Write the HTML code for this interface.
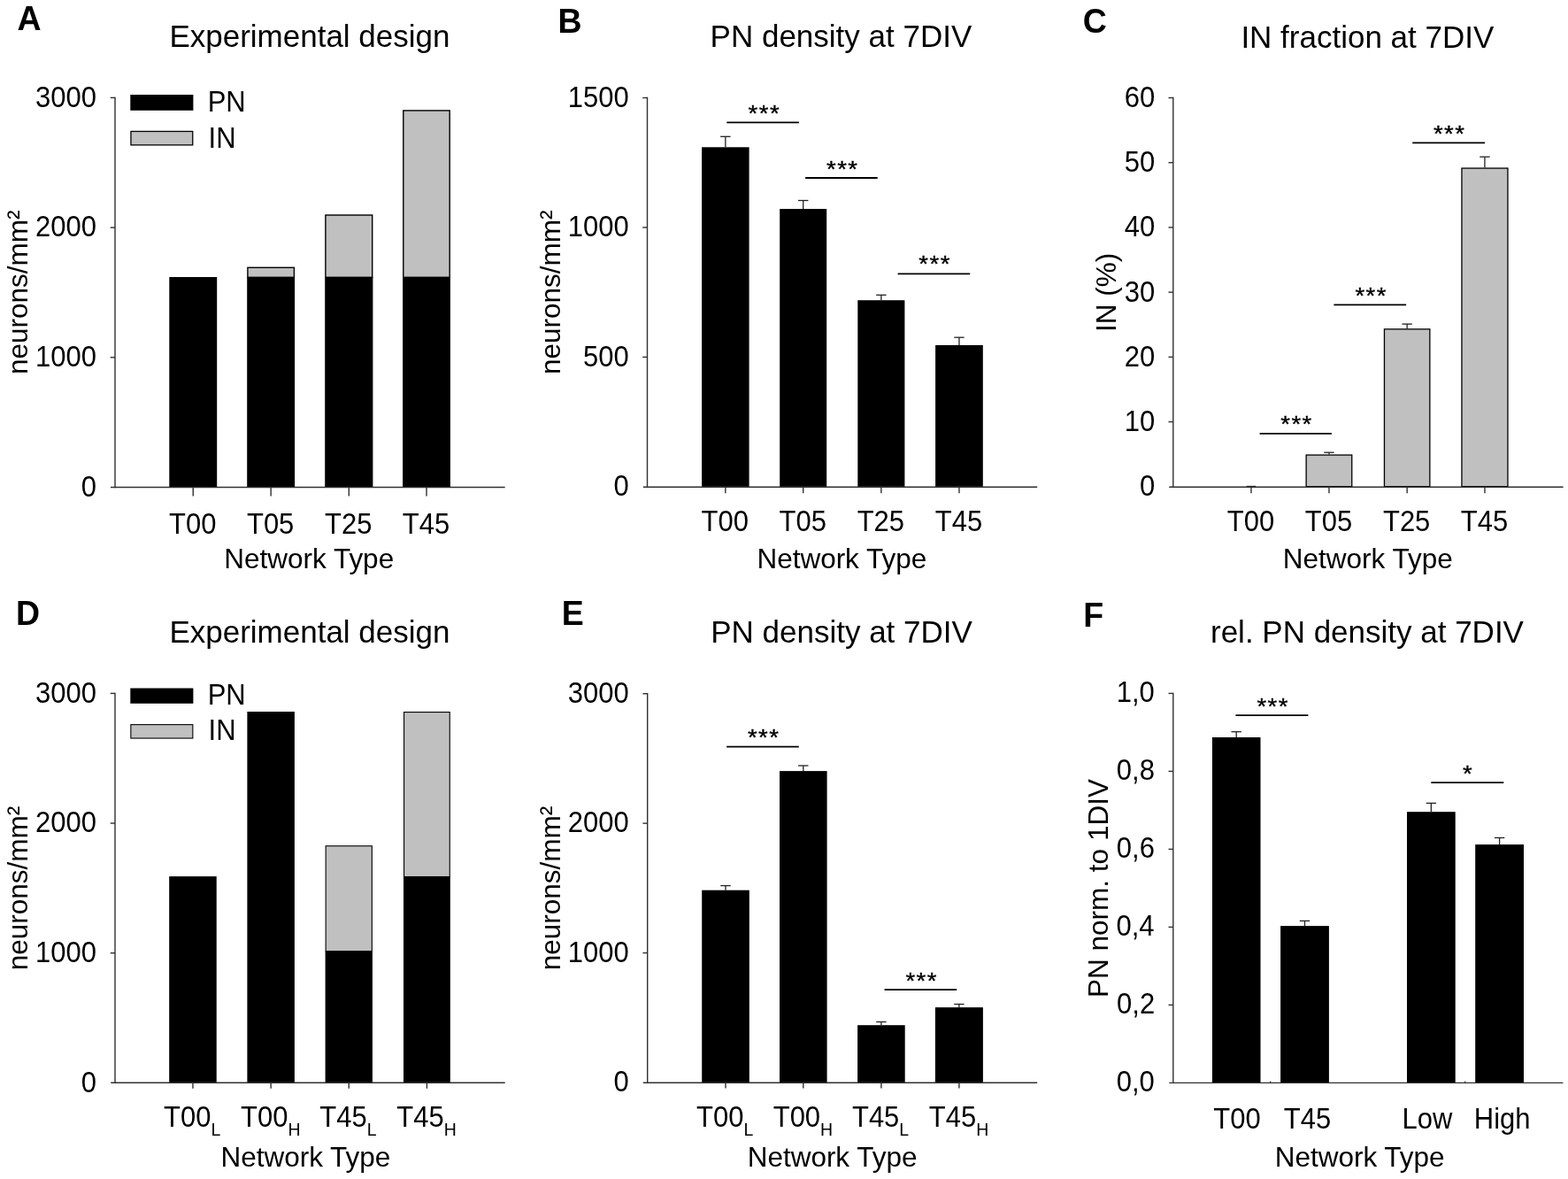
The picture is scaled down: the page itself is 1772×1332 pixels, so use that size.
<!DOCTYPE html>
<html><head><meta charset="utf-8"><title>Figure</title>
<style>
html,body{margin:0;padding:0;background:#fff;overflow:hidden;}
svg{display:block;}
text{font-family:"Liberation Sans", Arial, sans-serif;fill:#000;}
</style></head><body>
<svg width="1772" height="1332" viewBox="0 0 1772 1332">
<rect x="0" y="0" width="1772" height="1332" fill="#fff"/>
<text x="0" y="0" font-size="37.5" font-weight="bold" transform="translate(19.46,33.60) scale(1,1.055)">A</text>
<text x="0" y="0" font-size="35" transform="translate(191.40,53.30) scale(1,1.02)">Experimental design</text>
<rect x="191.30" y="313.00" width="53.90" height="237.50" fill="#000"/>
<rect x="279.90" y="302.30" width="52.50" height="11.00" fill="#c0c0c0" stroke="#000" stroke-width="1.4"/>
<rect x="279.20" y="313.00" width="53.90" height="237.50" fill="#000"/>
<rect x="367.90" y="243.00" width="52.80" height="70.30" fill="#c0c0c0" stroke="#000" stroke-width="1.4"/>
<rect x="367.20" y="313.00" width="54.20" height="237.50" fill="#000"/>
<rect x="455.80" y="124.90" width="52.40" height="188.40" fill="#c0c0c0" stroke="#000" stroke-width="1.4"/>
<rect x="455.10" y="313.00" width="53.80" height="237.50" fill="#000"/>
<line x1="130.00" y1="109.70" x2="130.00" y2="551.20" stroke="#303030" stroke-width="1.4"/>
<line x1="124.70" y1="110.40" x2="130.00" y2="110.40" stroke="#303030" stroke-width="1.4"/>
<text x="0" y="0" font-size="31.0" transform="translate(40.06,120.75) scale(1,1.055)">3000</text>
<line x1="124.70" y1="257.10" x2="130.00" y2="257.10" stroke="#303030" stroke-width="1.4"/>
<text x="0" y="0" font-size="31.0" transform="translate(40.06,267.45) scale(1,1.055)">2000</text>
<line x1="124.70" y1="403.80" x2="130.00" y2="403.80" stroke="#303030" stroke-width="1.4"/>
<text x="0" y="0" font-size="31.0" transform="translate(40.06,414.15) scale(1,1.055)">1000</text>
<text x="0" y="0" font-size="31.0" transform="translate(91.77,560.85) scale(1,1.055)">0</text>
<line x1="125.00" y1="550.50" x2="570.70" y2="550.50" stroke="#303030" stroke-width="1.4"/>
<line x1="218.25" y1="550.50" x2="218.25" y2="560.50" stroke="#303030" stroke-width="1.4"/>
<line x1="306.15" y1="550.50" x2="306.15" y2="560.50" stroke="#303030" stroke-width="1.4"/>
<line x1="394.30" y1="550.50" x2="394.30" y2="560.50" stroke="#303030" stroke-width="1.4"/>
<line x1="482.00" y1="550.50" x2="482.00" y2="560.50" stroke="#303030" stroke-width="1.4"/>
<rect x="147.30" y="107.00" width="71.10" height="17.80" fill="#000"/>
<rect x="147.95" y="148.45" width="69.80" height="15.40" fill="#c0c0c0" stroke="#000" stroke-width="1.3"/>
<text x="0" y="0" font-size="31.0" transform="translate(234.66,126.00) scale(1,1.055)">PN</text>
<text x="0" y="0" font-size="31.0" transform="translate(235.55,166.50) scale(1,1.055)">IN</text>
<text x="0" y="0" font-size="31.0" transform="translate(191.01,603.20) scale(1,1.055)">T00</text>
<text x="0" y="0" font-size="31.0" transform="translate(278.95,603.20) scale(1,1.055)">T05</text>
<text x="0" y="0" font-size="31.0" transform="translate(367.10,603.20) scale(1,1.055)">T25</text>
<text x="0" y="0" font-size="31.0" transform="translate(454.80,603.20) scale(1,1.055)">T45</text>
<text x="0" y="0" font-size="31.5" transform="translate(253.26,641.70) scale(1,1.02)">Network Type</text>
<text x="-93.52" y="0" font-size="31.5" transform="translate(31.00,329.60) rotate(-90)">neurons/mm²</text>
<text x="0" y="0" font-size="37.5" font-weight="bold" transform="translate(630.59,37.40) scale(1,1.055)">B</text>
<text x="0" y="0" font-size="35" transform="translate(802.61,53.30) scale(1,1.02)">PN density at 7DIV</text>
<rect x="793.10" y="166.30" width="53.50" height="383.60" fill="#000"/>
<line x1="819.85" y1="154.30" x2="819.85" y2="166.30" stroke="#222" stroke-width="1.3"/>
<line x1="814.15" y1="154.30" x2="825.55" y2="154.30" stroke="#222" stroke-width="1.3"/>
<rect x="881.20" y="236.00" width="53.00" height="313.90" fill="#000"/>
<line x1="907.70" y1="226.50" x2="907.70" y2="236.00" stroke="#222" stroke-width="1.3"/>
<line x1="902.00" y1="226.50" x2="913.40" y2="226.50" stroke="#222" stroke-width="1.3"/>
<rect x="969.30" y="339.20" width="53.10" height="210.70" fill="#000"/>
<line x1="995.85" y1="333.30" x2="995.85" y2="339.20" stroke="#222" stroke-width="1.3"/>
<line x1="990.15" y1="333.30" x2="1001.55" y2="333.30" stroke="#222" stroke-width="1.3"/>
<rect x="1057.10" y="389.90" width="53.70" height="160.00" fill="#000"/>
<line x1="1083.95" y1="381.20" x2="1083.95" y2="389.90" stroke="#222" stroke-width="1.3"/>
<line x1="1078.25" y1="381.20" x2="1089.65" y2="381.20" stroke="#222" stroke-width="1.3"/>
<line x1="731.50" y1="109.80" x2="731.50" y2="550.60" stroke="#303030" stroke-width="1.4"/>
<line x1="726.20" y1="110.50" x2="731.50" y2="110.50" stroke="#303030" stroke-width="1.4"/>
<text x="0" y="0" font-size="31.0" transform="translate(641.76,120.85) scale(1,1.055)">1500</text>
<line x1="726.20" y1="256.97" x2="731.50" y2="256.97" stroke="#303030" stroke-width="1.4"/>
<text x="0" y="0" font-size="31.0" transform="translate(641.76,267.32) scale(1,1.055)">1000</text>
<line x1="726.20" y1="403.43" x2="731.50" y2="403.43" stroke="#303030" stroke-width="1.4"/>
<text x="0" y="0" font-size="31.0" transform="translate(659.00,413.78) scale(1,1.055)">500</text>
<text x="0" y="0" font-size="31.0" transform="translate(693.47,560.25) scale(1,1.055)">0</text>
<line x1="726.80" y1="550.20" x2="1172.20" y2="550.20" stroke="#303030" stroke-width="1.4"/>
<line x1="819.85" y1="550.20" x2="819.85" y2="557.20" stroke="#303030" stroke-width="1.4"/>
<line x1="907.70" y1="550.20" x2="907.70" y2="557.20" stroke="#303030" stroke-width="1.4"/>
<line x1="995.85" y1="550.20" x2="995.85" y2="557.20" stroke="#303030" stroke-width="1.4"/>
<line x1="1083.95" y1="550.20" x2="1083.95" y2="557.20" stroke="#303030" stroke-width="1.4"/>
<line x1="821.30" y1="138.30" x2="902.90" y2="138.30" stroke="#000" stroke-width="1.8"/>
<text x="-5.93" y="15.63" font-size="30.5" stroke="#000" stroke-width="0.45" transform="translate(850.85,124.00) scale(0.9,0.85)">*</text>
<text x="-5.93" y="15.63" font-size="30.5" stroke="#000" stroke-width="0.45" transform="translate(863.05,124.00) scale(0.9,0.85)">*</text>
<text x="-5.93" y="15.63" font-size="30.5" stroke="#000" stroke-width="0.45" transform="translate(875.25,124.00) scale(0.9,0.85)">*</text>
<line x1="910.10" y1="201.00" x2="991.70" y2="201.00" stroke="#000" stroke-width="1.8"/>
<text x="-5.93" y="15.63" font-size="30.5" stroke="#000" stroke-width="0.45" transform="translate(939.30,186.60) scale(0.9,0.85)">*</text>
<text x="-5.93" y="15.63" font-size="30.5" stroke="#000" stroke-width="0.45" transform="translate(951.50,186.60) scale(0.9,0.85)">*</text>
<text x="-5.93" y="15.63" font-size="30.5" stroke="#000" stroke-width="0.45" transform="translate(963.70,186.60) scale(0.9,0.85)">*</text>
<line x1="1014.60" y1="309.30" x2="1096.20" y2="309.30" stroke="#000" stroke-width="1.8"/>
<text x="-5.93" y="15.63" font-size="30.5" stroke="#000" stroke-width="0.45" transform="translate(1043.70,294.20) scale(0.9,0.85)">*</text>
<text x="-5.93" y="15.63" font-size="30.5" stroke="#000" stroke-width="0.45" transform="translate(1055.90,294.20) scale(0.9,0.85)">*</text>
<text x="-5.93" y="15.63" font-size="30.5" stroke="#000" stroke-width="0.45" transform="translate(1068.10,294.20) scale(0.9,0.85)">*</text>
<text x="0" y="0" font-size="31.0" transform="translate(792.61,600.00) scale(1,1.055)">T00</text>
<text x="0" y="0" font-size="31.0" transform="translate(880.50,600.00) scale(1,1.055)">T05</text>
<text x="0" y="0" font-size="31.0" transform="translate(968.65,600.00) scale(1,1.055)">T25</text>
<text x="0" y="0" font-size="31.0" transform="translate(1056.75,600.00) scale(1,1.055)">T45</text>
<text x="0" y="0" font-size="31.5" transform="translate(855.41,641.70) scale(1,1.02)">Network Type</text>
<text x="-93.52" y="0" font-size="31.5" transform="translate(632.60,329.60) rotate(-90)">neurons/mm²</text>
<text x="0" y="0" font-size="37.5" font-weight="bold" transform="translate(1223.76,37.10) scale(1,1.055)">C</text>
<text x="0" y="0" font-size="35" transform="translate(1402.40,53.60) scale(1,1.02)">IN fraction at 7DIV</text>
<line x1="1408.65" y1="549.50" x2="1419.25" y2="549.50" stroke="#222" stroke-width="1.3"/>
<rect x="1476.15" y="514.05" width="51.60" height="35.60" fill="#c0c0c0" stroke="#000" stroke-width="1.3"/>
<line x1="1501.95" y1="511.20" x2="1501.95" y2="513.40" stroke="#222" stroke-width="1.3"/>
<line x1="1496.25" y1="511.20" x2="1507.65" y2="511.20" stroke="#222" stroke-width="1.3"/>
<rect x="1564.45" y="371.85" width="51.40" height="177.80" fill="#c0c0c0" stroke="#000" stroke-width="1.3"/>
<line x1="1590.15" y1="366.10" x2="1590.15" y2="371.20" stroke="#222" stroke-width="1.3"/>
<line x1="1584.45" y1="366.10" x2="1595.85" y2="366.10" stroke="#222" stroke-width="1.3"/>
<rect x="1651.95" y="190.05" width="52.00" height="359.60" fill="#c0c0c0" stroke="#000" stroke-width="1.3"/>
<line x1="1677.95" y1="177.20" x2="1677.95" y2="189.40" stroke="#222" stroke-width="1.3"/>
<line x1="1672.25" y1="177.20" x2="1683.65" y2="177.20" stroke="#222" stroke-width="1.3"/>
<line x1="1325.80" y1="109.80" x2="1325.80" y2="550.50" stroke="#303030" stroke-width="1.4"/>
<line x1="1320.50" y1="110.50" x2="1325.80" y2="110.50" stroke="#303030" stroke-width="1.4"/>
<text x="0" y="0" font-size="31.0" transform="translate(1270.74,120.85) scale(1,1.055)">60</text>
<line x1="1320.50" y1="183.72" x2="1325.80" y2="183.72" stroke="#303030" stroke-width="1.4"/>
<text x="0" y="0" font-size="31.0" transform="translate(1270.74,194.07) scale(1,1.055)">50</text>
<line x1="1320.50" y1="256.93" x2="1325.80" y2="256.93" stroke="#303030" stroke-width="1.4"/>
<text x="0" y="0" font-size="31.0" transform="translate(1270.74,267.28) scale(1,1.055)">40</text>
<line x1="1320.50" y1="330.15" x2="1325.80" y2="330.15" stroke="#303030" stroke-width="1.4"/>
<text x="0" y="0" font-size="31.0" transform="translate(1270.74,340.50) scale(1,1.055)">30</text>
<line x1="1320.50" y1="403.37" x2="1325.80" y2="403.37" stroke="#303030" stroke-width="1.4"/>
<text x="0" y="0" font-size="31.0" transform="translate(1270.74,413.72) scale(1,1.055)">20</text>
<line x1="1320.50" y1="476.58" x2="1325.80" y2="476.58" stroke="#303030" stroke-width="1.4"/>
<text x="0" y="0" font-size="31.0" transform="translate(1270.74,486.93) scale(1,1.055)">10</text>
<text x="0" y="0" font-size="31.0" transform="translate(1287.97,560.15) scale(1,1.055)">0</text>
<line x1="1321.20" y1="550.30" x2="1766.60" y2="550.30" stroke="#303030" stroke-width="1.4"/>
<line x1="1413.95" y1="550.30" x2="1413.95" y2="557.30" stroke="#303030" stroke-width="1.4"/>
<line x1="1501.95" y1="550.30" x2="1501.95" y2="557.30" stroke="#303030" stroke-width="1.4"/>
<line x1="1590.15" y1="550.30" x2="1590.15" y2="557.30" stroke="#303030" stroke-width="1.4"/>
<line x1="1677.95" y1="550.30" x2="1677.95" y2="557.30" stroke="#303030" stroke-width="1.4"/>
<line x1="1423.60" y1="489.90" x2="1504.90" y2="489.90" stroke="#000" stroke-width="1.8"/>
<text x="-5.93" y="15.63" font-size="30.5" stroke="#000" stroke-width="0.45" transform="translate(1452.55,475.20) scale(0.9,0.85)">*</text>
<text x="-5.93" y="15.63" font-size="30.5" stroke="#000" stroke-width="0.45" transform="translate(1464.75,475.20) scale(0.9,0.85)">*</text>
<text x="-5.93" y="15.63" font-size="30.5" stroke="#000" stroke-width="0.45" transform="translate(1476.95,475.20) scale(0.9,0.85)">*</text>
<line x1="1507.40" y1="344.40" x2="1589.10" y2="344.40" stroke="#000" stroke-width="1.8"/>
<text x="-5.93" y="15.63" font-size="30.5" stroke="#000" stroke-width="0.45" transform="translate(1536.75,329.45) scale(0.9,0.85)">*</text>
<text x="-5.93" y="15.63" font-size="30.5" stroke="#000" stroke-width="0.45" transform="translate(1548.95,329.45) scale(0.9,0.85)">*</text>
<text x="-5.93" y="15.63" font-size="30.5" stroke="#000" stroke-width="0.45" transform="translate(1561.15,329.45) scale(0.9,0.85)">*</text>
<line x1="1596.20" y1="161.40" x2="1678.10" y2="161.40" stroke="#000" stroke-width="1.8"/>
<text x="-5.93" y="15.63" font-size="30.5" stroke="#000" stroke-width="0.45" transform="translate(1625.25,146.75) scale(0.9,0.85)">*</text>
<text x="-5.93" y="15.63" font-size="30.5" stroke="#000" stroke-width="0.45" transform="translate(1637.45,146.75) scale(0.9,0.85)">*</text>
<text x="-5.93" y="15.63" font-size="30.5" stroke="#000" stroke-width="0.45" transform="translate(1649.65,146.75) scale(0.9,0.85)">*</text>
<text x="0" y="0" font-size="31.0" transform="translate(1386.71,599.90) scale(1,1.055)">T00</text>
<text x="0" y="0" font-size="31.0" transform="translate(1474.75,599.90) scale(1,1.055)">T05</text>
<text x="0" y="0" font-size="31.0" transform="translate(1562.95,599.90) scale(1,1.055)">T25</text>
<text x="0" y="0" font-size="31.0" transform="translate(1650.75,599.90) scale(1,1.055)">T45</text>
<text x="0" y="0" font-size="31.5" transform="translate(1449.81,641.90) scale(1,1.02)">Network Type</text>
<text x="-45.09" y="0" font-size="31.5" transform="translate(1261.00,330.00) rotate(-90)">IN (%)</text>
<text x="0" y="0" font-size="37.5" font-weight="bold" transform="translate(17.99,705.60) scale(1,1.055)">D</text>
<text x="0" y="0" font-size="35" transform="translate(191.40,726.40) scale(1,1.02)">Experimental design</text>
<rect x="191.20" y="990.10" width="53.50" height="233.20" fill="#000"/>
<rect x="279.40" y="804.00" width="53.50" height="419.30" fill="#000"/>
<rect x="368.15" y="955.75" width="52.20" height="119.10" fill="#c0c0c0" stroke="#000" stroke-width="1.1"/>
<rect x="367.60" y="1074.40" width="53.30" height="148.90" fill="#000"/>
<rect x="456.55" y="804.55" width="51.70" height="186.00" fill="#c0c0c0" stroke="#000" stroke-width="1.1"/>
<rect x="456.00" y="990.10" width="52.80" height="233.20" fill="#000"/>
<line x1="130.00" y1="782.70" x2="130.00" y2="1224.00" stroke="#303030" stroke-width="1.4"/>
<line x1="124.70" y1="783.40" x2="130.00" y2="783.40" stroke="#303030" stroke-width="1.4"/>
<text x="0" y="0" font-size="31.0" transform="translate(40.06,793.75) scale(1,1.055)">3000</text>
<line x1="124.70" y1="930.03" x2="130.00" y2="930.03" stroke="#303030" stroke-width="1.4"/>
<text x="0" y="0" font-size="31.0" transform="translate(40.06,940.38) scale(1,1.055)">2000</text>
<line x1="124.70" y1="1076.67" x2="130.00" y2="1076.67" stroke="#303030" stroke-width="1.4"/>
<text x="0" y="0" font-size="31.0" transform="translate(40.06,1087.02) scale(1,1.055)">1000</text>
<text x="0" y="0" font-size="31.0" transform="translate(91.77,1233.65) scale(1,1.055)">0</text>
<line x1="125.20" y1="1223.30" x2="570.70" y2="1223.30" stroke="#303030" stroke-width="1.4"/>
<line x1="217.95" y1="1223.30" x2="217.95" y2="1229.80" stroke="#303030" stroke-width="1.4"/>
<line x1="306.15" y1="1223.30" x2="306.15" y2="1229.80" stroke="#303030" stroke-width="1.4"/>
<line x1="394.25" y1="1223.30" x2="394.25" y2="1229.80" stroke="#303030" stroke-width="1.4"/>
<line x1="482.40" y1="1223.30" x2="482.40" y2="1229.80" stroke="#303030" stroke-width="1.4"/>
<rect x="147.30" y="777.50" width="71.10" height="17.30" fill="#000"/>
<rect x="147.85" y="818.65" width="70.00" height="15.40" fill="#c0c0c0" stroke="#000" stroke-width="1.1"/>
<text x="0" y="0" font-size="31.0" transform="translate(234.66,796.00) scale(1,1.055)">PN</text>
<text x="0" y="0" font-size="31.0" transform="translate(235.55,836.30) scale(1,1.055)">IN</text>
<text x="0" y="0" font-size="31.0" transform="translate(185.00,1273.00) scale(1,1.055)">T00<tspan font-size="19.5" dy="9.10">L</tspan></text>
<text x="0" y="0" font-size="31.0" transform="translate(272.05,1273.00) scale(1,1.055)">T00<tspan font-size="19.5" dy="9.10">H</tspan></text>
<text x="0" y="0" font-size="31.0" transform="translate(361.30,1273.00) scale(1,1.055)">T45<tspan font-size="19.5" dy="9.10">L</tspan></text>
<text x="0" y="0" font-size="31.0" transform="translate(448.30,1273.00) scale(1,1.055)">T45<tspan font-size="19.5" dy="9.10">H</tspan></text>
<text x="0" y="0" font-size="31.5" transform="translate(249.46,1318.00) scale(1,1.02)">Network Type</text>
<text x="-93.52" y="0" font-size="31.5" transform="translate(30.60,1002.80) rotate(-90)">neurons/mm²</text>
<text x="0" y="0" font-size="37.5" font-weight="bold" transform="translate(634.79,706.30) scale(1,1.055)">E</text>
<text x="0" y="0" font-size="35" transform="translate(803.21,726.20) scale(1,1.02)">PN density at 7DIV</text>
<rect x="793.20" y="1005.70" width="53.60" height="217.30" fill="#000"/>
<line x1="820.00" y1="1000.60" x2="820.00" y2="1005.70" stroke="#222" stroke-width="1.3"/>
<line x1="814.30" y1="1000.60" x2="825.70" y2="1000.60" stroke="#222" stroke-width="1.3"/>
<rect x="881.00" y="871.10" width="53.60" height="351.90" fill="#000"/>
<line x1="907.80" y1="865.00" x2="907.80" y2="871.10" stroke="#222" stroke-width="1.3"/>
<line x1="902.10" y1="865.00" x2="913.50" y2="865.00" stroke="#222" stroke-width="1.3"/>
<rect x="969.10" y="1158.20" width="53.60" height="64.80" fill="#000"/>
<line x1="995.90" y1="1154.50" x2="995.90" y2="1158.20" stroke="#222" stroke-width="1.3"/>
<line x1="990.20" y1="1154.50" x2="1001.60" y2="1154.50" stroke="#222" stroke-width="1.3"/>
<rect x="1056.90" y="1138.10" width="54.00" height="84.90" fill="#000"/>
<line x1="1083.90" y1="1134.50" x2="1083.90" y2="1138.10" stroke="#222" stroke-width="1.3"/>
<line x1="1078.20" y1="1134.50" x2="1089.60" y2="1134.50" stroke="#222" stroke-width="1.3"/>
<line x1="731.70" y1="783.00" x2="731.70" y2="1223.70" stroke="#303030" stroke-width="1.4"/>
<line x1="726.40" y1="783.70" x2="731.70" y2="783.70" stroke="#303030" stroke-width="1.4"/>
<text x="0" y="0" font-size="31.0" transform="translate(641.76,794.05) scale(1,1.055)">3000</text>
<line x1="726.40" y1="930.13" x2="731.70" y2="930.13" stroke="#303030" stroke-width="1.4"/>
<text x="0" y="0" font-size="31.0" transform="translate(641.76,940.48) scale(1,1.055)">2000</text>
<line x1="726.40" y1="1076.57" x2="731.70" y2="1076.57" stroke="#303030" stroke-width="1.4"/>
<text x="0" y="0" font-size="31.0" transform="translate(641.76,1086.92) scale(1,1.055)">1000</text>
<text x="0" y="0" font-size="31.0" transform="translate(693.47,1233.35) scale(1,1.055)">0</text>
<line x1="726.80" y1="1223.30" x2="1172.20" y2="1223.30" stroke="#303030" stroke-width="1.4"/>
<line x1="820.00" y1="1223.30" x2="820.00" y2="1229.60" stroke="#303030" stroke-width="1.4"/>
<line x1="907.80" y1="1223.30" x2="907.80" y2="1229.60" stroke="#303030" stroke-width="1.4"/>
<line x1="995.90" y1="1223.30" x2="995.90" y2="1229.60" stroke="#303030" stroke-width="1.4"/>
<line x1="1083.90" y1="1223.30" x2="1083.90" y2="1229.60" stroke="#303030" stroke-width="1.4"/>
<line x1="821.10" y1="843.60" x2="902.80" y2="843.60" stroke="#000" stroke-width="1.8"/>
<text x="-5.93" y="15.63" font-size="30.5" stroke="#000" stroke-width="0.45" transform="translate(850.25,829.00) scale(0.9,0.85)">*</text>
<text x="-5.93" y="15.63" font-size="30.5" stroke="#000" stroke-width="0.45" transform="translate(862.45,829.00) scale(0.9,0.85)">*</text>
<text x="-5.93" y="15.63" font-size="30.5" stroke="#000" stroke-width="0.45" transform="translate(874.65,829.00) scale(0.9,0.85)">*</text>
<line x1="999.50" y1="1118.10" x2="1081.20" y2="1118.10" stroke="#000" stroke-width="1.8"/>
<text x="-5.93" y="15.63" font-size="30.5" stroke="#000" stroke-width="0.45" transform="translate(1028.75,1103.40) scale(0.9,0.85)">*</text>
<text x="-5.93" y="15.63" font-size="30.5" stroke="#000" stroke-width="0.45" transform="translate(1040.95,1103.40) scale(0.9,0.85)">*</text>
<text x="-5.93" y="15.63" font-size="30.5" stroke="#000" stroke-width="0.45" transform="translate(1053.15,1103.40) scale(0.9,0.85)">*</text>
<text x="0" y="0" font-size="31.0" transform="translate(787.05,1273.00) scale(1,1.055)">T00<tspan font-size="19.5" dy="9.10">L</tspan></text>
<text x="0" y="0" font-size="31.0" transform="translate(873.70,1273.00) scale(1,1.055)">T00<tspan font-size="19.5" dy="9.10">H</tspan></text>
<text x="0" y="0" font-size="31.0" transform="translate(962.95,1273.00) scale(1,1.055)">T45<tspan font-size="19.5" dy="9.10">L</tspan></text>
<text x="0" y="0" font-size="31.0" transform="translate(1049.80,1273.00) scale(1,1.055)">T45<tspan font-size="19.5" dy="9.10">H</tspan></text>
<text x="0" y="0" font-size="31.5" transform="translate(844.66,1318.00) scale(1,1.02)">Network Type</text>
<text x="-93.52" y="0" font-size="31.5" transform="translate(632.80,1002.80) rotate(-90)">neurons/mm²</text>
<text x="0" y="0" font-size="37.5" font-weight="bold" transform="translate(1224.19,707.50) scale(1,1.055)">F</text>
<text x="0" y="0" font-size="35" transform="translate(1367.99,725.80) scale(1,1.02)">rel. PN density at 7DIV</text>
<rect x="1369.90" y="833.00" width="54.60" height="390.40" fill="#000"/>
<line x1="1397.20" y1="826.70" x2="1397.20" y2="833.00" stroke="#222" stroke-width="1.3"/>
<line x1="1391.50" y1="826.70" x2="1402.90" y2="826.70" stroke="#222" stroke-width="1.3"/>
<rect x="1447.10" y="1046.10" width="54.80" height="177.30" fill="#000"/>
<line x1="1474.50" y1="1040.40" x2="1474.50" y2="1046.10" stroke="#222" stroke-width="1.3"/>
<line x1="1468.80" y1="1040.40" x2="1480.20" y2="1040.40" stroke="#222" stroke-width="1.3"/>
<rect x="1590.00" y="917.20" width="54.70" height="306.20" fill="#000"/>
<line x1="1617.35" y1="907.40" x2="1617.35" y2="917.20" stroke="#222" stroke-width="1.3"/>
<line x1="1611.65" y1="907.40" x2="1623.05" y2="907.40" stroke="#222" stroke-width="1.3"/>
<rect x="1667.20" y="954.10" width="54.80" height="269.30" fill="#000"/>
<line x1="1694.60" y1="946.50" x2="1694.60" y2="954.10" stroke="#222" stroke-width="1.3"/>
<line x1="1688.90" y1="946.50" x2="1700.30" y2="946.50" stroke="#222" stroke-width="1.3"/>
<line x1="1325.80" y1="782.70" x2="1325.80" y2="1224.10" stroke="#303030" stroke-width="1.4"/>
<line x1="1320.50" y1="783.40" x2="1325.80" y2="783.40" stroke="#303030" stroke-width="1.4"/>
<text x="0" y="0" font-size="31.0" transform="translate(1261.72,792.52) scale(1,1.055)">1,0</text>
<line x1="1320.50" y1="871.40" x2="1325.80" y2="871.40" stroke="#303030" stroke-width="1.4"/>
<text x="0" y="0" font-size="31.0" transform="translate(1261.84,880.52) scale(1,1.055)">0,8</text>
<line x1="1320.50" y1="959.40" x2="1325.80" y2="959.40" stroke="#303030" stroke-width="1.4"/>
<text x="0" y="0" font-size="31.0" transform="translate(1261.87,968.52) scale(1,1.055)">0,6</text>
<line x1="1320.50" y1="1047.40" x2="1325.80" y2="1047.40" stroke="#303030" stroke-width="1.4"/>
<text x="0" y="0" font-size="31.0" transform="translate(1261.41,1056.52) scale(1,1.055)">0,4</text>
<line x1="1320.50" y1="1135.40" x2="1325.80" y2="1135.40" stroke="#303030" stroke-width="1.4"/>
<text x="0" y="0" font-size="31.0" transform="translate(1262.06,1144.52) scale(1,1.055)">0,2</text>
<text x="0" y="0" font-size="31.0" transform="translate(1261.72,1232.52) scale(1,1.055)">0,0</text>
<line x1="1321.30" y1="1223.40" x2="1766.40" y2="1223.40" stroke="#303030" stroke-width="1.4"/>
<line x1="1435.70" y1="1221.60" x2="1435.70" y2="1223.40" stroke="#303030" stroke-width="1.2"/>
<line x1="1655.70" y1="1221.60" x2="1655.70" y2="1223.40" stroke="#303030" stroke-width="1.2"/>
<line x1="1396.40" y1="808.10" x2="1478.40" y2="808.10" stroke="#000" stroke-width="1.8"/>
<text x="-5.93" y="15.63" font-size="30.5" stroke="#000" stroke-width="0.45" transform="translate(1425.75,793.95) scale(0.9,0.85)">*</text>
<text x="-5.93" y="15.63" font-size="30.5" stroke="#000" stroke-width="0.45" transform="translate(1437.95,793.95) scale(0.9,0.85)">*</text>
<text x="-5.93" y="15.63" font-size="30.5" stroke="#000" stroke-width="0.45" transform="translate(1450.15,793.95) scale(0.9,0.85)">*</text>
<line x1="1617.30" y1="884.20" x2="1699.30" y2="884.20" stroke="#000" stroke-width="1.8"/>
<text x="-5.93" y="15.63" font-size="30.5" stroke="#000" stroke-width="0.45" transform="translate(1658.30,869.40) scale(0.9,0.85)">*</text>
<text x="0" y="0" font-size="31.0" transform="translate(1371.21,1274.50) scale(1,1.055)">T00</text>
<text x="0" y="0" font-size="31.0" transform="translate(1450.80,1274.50) scale(1,1.055)">T45</text>
<text x="0" y="0" font-size="31.0" transform="translate(1584.62,1274.50) scale(1,1.055)">Low</text>
<text x="0" y="0" font-size="31.0" transform="translate(1665.85,1274.50) scale(1,1.055)">High</text>
<text x="0" y="0" font-size="31.5" transform="translate(1440.71,1317.50) scale(1,1.02)">Network Type</text>
<text x="-124.63" y="0" font-size="31.5" transform="translate(1252.20,1002.30) rotate(-90)">PN norm. to 1DIV</text>
</svg>
</body></html>
